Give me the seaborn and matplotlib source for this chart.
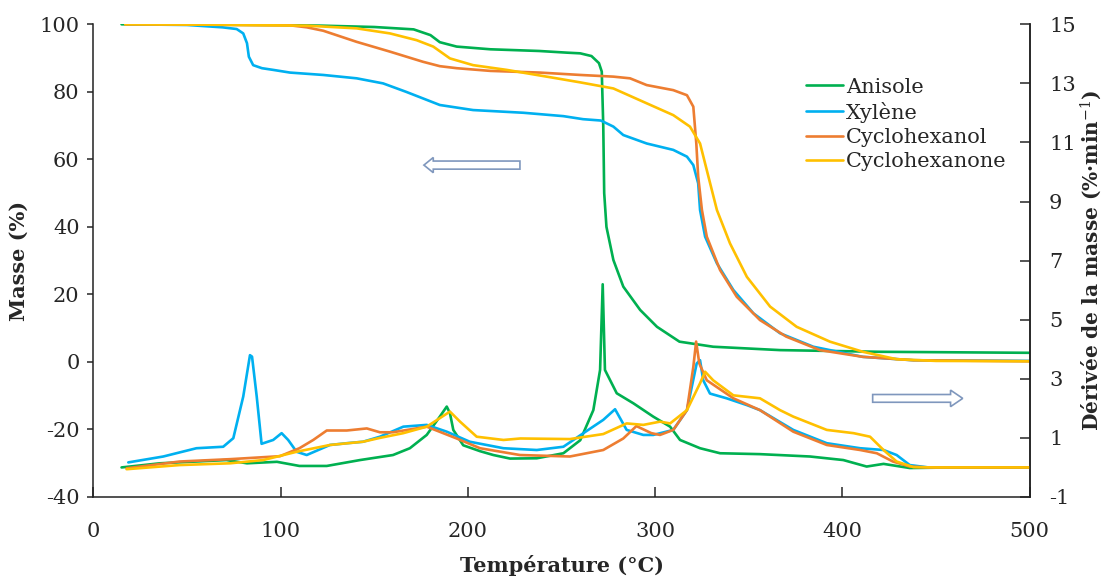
import matplotlib
matplotlib.use("Agg")
import matplotlib.pyplot as plt
import seaborn as sns
from matplotlib.patches import FancyArrow

# Masse (%) vs température
t_anisole = [15, 60, 100, 122, 150, 171, 180, 185, 194, 212, 238, 253, 260, 266, 270, 271.5,
             272.3, 272.8, 274, 277.7, 283, 292, 301, 313, 331, 366.7, 420, 500]
m_anisole = [100, 99.9, 99.8, 99.6, 99.2, 98.5, 96.8, 94.7, 93.4, 92.6, 92.1, 91.6, 91.4, 90.6, 88.5, 86,
             70, 50, 40, 30.2, 22.3, 15.4, 10.4, 6.0, 4.5, 3.5, 3.0, 2.7]

t_xylene = [18, 50, 69, 76.5, 80, 82, 83, 85.3, 90, 96, 105, 122.7, 140.6, 154.7, 167, 185, 202.8,
            229.6, 251, 261.5, 271, 277.7, 283, 295.5, 309.7, 317, 320.4, 323, 324, 326.7, 333,
            341.8, 352.5, 366.7, 384.5, 411, 438, 500]
m_xylene = [100, 99.8, 99.1, 98.6, 97.3, 94.4, 90.4, 87.9, 87, 86.5, 85.7, 85, 84, 82.5, 80, 76.1, 74.6,
            73.8, 72.8, 71.9, 71.5, 69.7, 67.2, 64.7, 62.8, 60.8, 58.3, 52.9, 45, 37.1, 29.2,
            21.3, 14.4, 8.5, 4.5, 1.5, 0.5, 0.3]

t_cyclohexanol = [17, 60, 105, 114, 122.7, 140.6, 158.4, 176, 185, 194, 212, 238.5, 260, 277.7, 286.6,
                  295.5, 309.7, 317, 320.4, 322, 323, 325, 327.6, 334.7, 343.6, 356, 370, 388, 411,
                  438, 500]
m_cyclohexanol = [100, 99.9, 99.7, 99.1, 98.1, 94.8, 91.9, 88.9, 87.6, 87, 86.2, 85.7, 85, 84.5, 84,
                  82, 80.5, 79, 75.6, 64.7, 54.9, 45, 37.1, 27.2, 19.3, 12.4, 7.5, 3.5, 1.5,
                  0.5, 0.2]

t_cyclohexanone = [17, 60, 114, 140.6, 158.4, 172.6, 181.5, 190.4, 202.8, 220.7, 247.4, 260, 277.7,
                   295.5, 309.7, 318.6, 324, 327.6, 333, 340, 349, 361.4, 375.6, 393.4, 411, 429,
                   450, 500]
m_cyclohexanone = [100, 99.9, 99.6, 98.8, 97.3, 95.3, 93.4, 89.9, 87.9, 86.5, 84, 82.8, 81,
                   76.6, 73.1, 69.7, 64.7, 56.8, 45, 35.1, 25.2, 16.4, 10.4, 6.0, 3.0, 0.8,
                   0.3, 0.2]

# Dérivée de la masse (%/min)
td_anisole = [15, 35.5, 71, 82, 98, 110, 124.6, 142.4, 160, 169, 178, 185, 188.7, 190.4, 192.2, 197.5,
              206.5, 213.6, 222.5, 236.8, 251, 260, 267, 270.6, 272, 273.2, 279.5, 288.4, 299, 308,
              313.3, 324, 334.7, 356, 382.7, 400.5, 413, 422, 436, 460, 500]
d_anisole = [0, 0.14, 0.25, 0.14, 0.19, 0.05, 0.05, 0.25, 0.42, 0.65, 1.1, 1.72, 2.06, 1.84, 1.27, 0.75,
             0.55, 0.42, 0.3, 0.31, 0.48, 0.92, 1.94, 3.3, 6.2, 3.3, 2.51, 2.17, 1.72, 1.38,
             0.93, 0.65, 0.48, 0.45, 0.37, 0.25, 0.03, 0.12, -0.02, 0, 0]

td_xylene = [18.6, 37.3, 55, 69.3, 74.7, 80, 83.6, 84.7, 87.2, 89.8, 96, 100.5, 104, 108.5, 113.9,
             126.3, 135.3, 144, 153, 165.5, 178, 188.7, 201, 219, 236.8, 251, 261.7, 272.3, 278.6,
             284.8, 293.7, 299, 309.7, 317, 322.2, 324, 325.7, 329.3, 338.2, 349, 356, 373.8,
             391.7, 409.5, 422, 429, 436, 446, 500]
d_xylene = [0.17, 0.37, 0.65, 0.7, 0.99, 2.4, 3.8, 3.75, 2.4, 0.8, 0.93, 1.16, 0.93, 0.53, 0.42,
            0.76, 0.82, 0.87, 1.04, 1.38, 1.44, 1.21, 0.87, 0.65, 0.59, 0.7, 1.16, 1.61, 1.97,
            1.27, 1.1, 1.1, 1.27, 1.94, 3.52, 3.63, 2.95, 2.5, 2.34, 2.11, 1.94, 1.27,
            0.82, 0.65, 0.59, 0.42, 0.08, 0, 0]

td_cyclohexanol = [17.7, 46, 73, 99.6, 110, 117.4, 124.6, 135.3, 146, 153, 160, 178, 194, 206.5, 227.8,
                   254.5, 272.3, 283, 290, 298, 302.6, 309.7, 317, 320.4, 321.9, 323.6, 327.6, 341.8,
                   356, 373.8, 391.7, 409.5, 418.4, 427, 436, 446, 500]
d_cyclohexanol = [-0.03, 0.2, 0.28, 0.38, 0.65, 0.93, 1.25, 1.25, 1.32, 1.19, 1.19, 1.38, 0.98, 0.65, 0.42,
                  0.37, 0.59, 0.98, 1.4, 1.16, 1.1, 1.27, 1.94, 3.4, 4.26, 3.52, 2.95, 2.34,
                  1.94, 1.21, 0.76, 0.59, 0.48, 0.2, 0.03, 0, 0]

td_cyclohexanone = [17.7, 46, 73, 90.7, 108.5, 126.3, 144, 153, 165.5, 178, 190.4, 195.8, 204.7, 219,
                    228, 254.5, 272.3, 284.8, 293.7, 302.6, 308, 317, 324, 326.7, 331, 341.8, 356,
                    366.7, 373.8, 391.7, 406, 414.8, 422, 429, 438, 450, 500]
d_cyclohexanone = [-0.06, 0.08, 0.14, 0.25, 0.53, 0.76, 0.87, 1.0, 1.16, 1.38, 1.89, 1.55, 1.04, 0.93,
                   0.98, 0.96, 1.13, 1.49, 1.44, 1.55, 1.49, 1.94, 2.85, 3.24, 2.95, 2.44, 2.34,
                   1.94, 1.72, 1.27, 1.16, 1.04, 0.59, 0.2, 0.01, 0, 0]

names = ["Anisole", "Xylène", "Cyclohexanol", "Cyclohexanone"]
colors = ["#00b050", "#00b0f0", "#ed7d31", "#ffc000"]

sns.set_style("ticks")
plt.rcParams['font.family'] = ['DejaVu Serif', 'DejaVu Sans']
plt.rcParams['mathtext.fontset'] = 'dejavuserif'
plt.rcParams['axes.unicode_minus'] = False

fig = plt.figure(figsize=(11.14, 5.76), dpi=100)
ax = fig.add_axes([0.0839, 0.1372, 0.8403, 0.8206])
ax2 = ax.twinx()

mass = [(t_anisole, m_anisole), (t_xylene, m_xylene),
        (t_cyclohexanol, m_cyclohexanol), (t_cyclohexanone, m_cyclohexanone)]
deriv = [(td_anisole, d_anisole), (td_xylene, d_xylene),
         (td_cyclohexanol, d_cyclohexanol), (td_cyclohexanone, d_cyclohexanone)]

for (t, m), name, c in zip(mass, names, colors):
    sns.lineplot(x=t, y=m, ax=ax, color=c, lw=1.9, label=name, estimator=None)
for (t, d), c in zip(deriv, colors):
    sns.lineplot(x=t, y=d, ax=ax2, color=c, lw=1.9, estimator=None, legend=False)

ax.set_xlim(0, 500)
ax.set_ylim(-40, 100)
ax.set_yticks(range(-40, 101, 20))
ax.set_xticks(range(0, 501, 100))
ax2.set_ylim(-1, 15)
ax2.set_yticks(range(-1, 16, 2))

for a in (ax, ax2):
    a.spines['top'].set_visible(False)
    for s in a.spines.values():
        s.set_linewidth(1.1)
        s.set_color('#222222')
ax2.spines['left'].set_visible(False)
ax2.spines['bottom'].set_visible(False)

ax.tick_params(axis='y', direction='out', length=4, width=1.1, labelsize=15, pad=6)
ax.tick_params(axis='x', direction='in', length=7, width=1.1, labelsize=15, pad=18)
ax2.tick_params(axis='y', direction='in', length=7, width=1.1, labelsize=15, pad=14)

ax.set_xlabel("Température (°C)", fontsize=15, fontweight='bold', labelpad=10)
ax.set_ylabel("Masse (%)", fontsize=15, fontweight='bold', labelpad=8)
ax2.set_ylabel("Dérivée de la masse (%·min$^{-1}$)", fontsize=14.5, fontweight='bold', labelpad=2)

ax.legend(loc='upper left', bbox_to_anchor=(0.752, 0.905), frameon=False, fontsize=15,
          handlelength=1.8, handletextpad=0.15, labelspacing=0.25, borderaxespad=0)

# flèches creuses
ax.add_patch(FancyArrow(227.8, 58.3, -51.3, 0, width=2.4, head_width=4.5, head_length=5,
                        length_includes_head=True, fc='white', ec='#7f97bd', lw=1.2))
ax.add_patch(FancyArrow(416.2, -10.8, 48.1, 0, width=2.3, head_width=4.9, head_length=6.5,
                        length_includes_head=True, fc='white', ec='#7f97bd', lw=1.2))

fig.savefig("out.png", dpi=100)
